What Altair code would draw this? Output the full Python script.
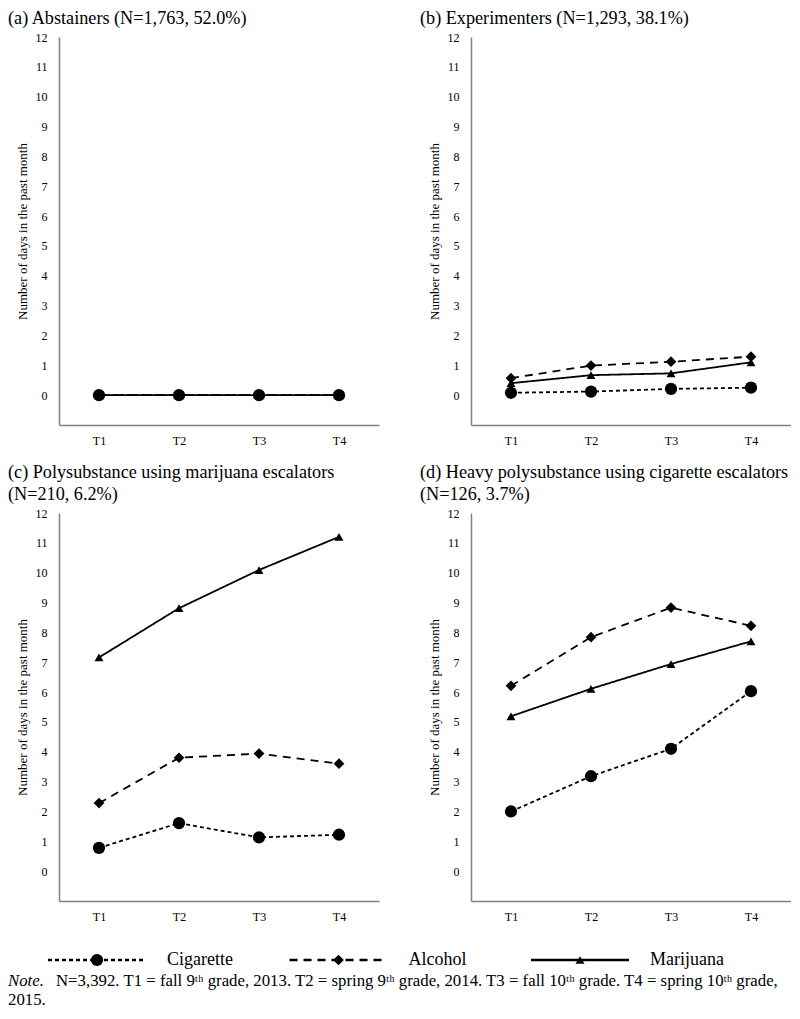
import altair as alt
import pandas as pd

FONT = "Liberation Serif"

times = ["T1", "T2", "T3", "T4"]
substances = ["Cigarette", "Alcohol", "Marijuana"]

panel_keys = ["a", "b", "c", "d"]
panel_titles = {
    "a": "(a) Abstainers (N=1,763, 52.0%)",
    "b": "(b) Experimenters (N=1,293, 38.1%)",
    "c": ["(c) Polysubstance using marijuana escalators", "(N=210, 6.2%)"],
    "d": ["(d) Heavy polysubstance using cigarette escalators", "(N=126, 3.7%)"],
}

# values per panel, T1..T4
a_cigarette = [0.0, 0.0, 0.0, 0.0]
a_alcohol = [0.0, 0.0, 0.0, 0.0]
a_marijuana = [0.0, 0.0, 0.0, 0.0]

b_cigarette = [0.08, 0.12, 0.21, 0.25]
b_alcohol = [0.57, 0.99, 1.12, 1.29]
b_marijuana = [0.40, 0.67, 0.73, 1.10]

c_cigarette = [0.78, 1.61, 1.13, 1.22]
c_alcohol = [2.28, 3.80, 3.94, 3.60]
c_marijuana = [7.16, 8.81, 10.09, 11.20]

d_cigarette = [2.00, 3.18, 4.10, 6.03]
d_alcohol = [6.21, 7.84, 8.83, 8.22]
d_marijuana = [5.19, 6.11, 6.94, 7.70]

y_ticks = list(range(0, 13))
y_title = "Number of days in the past month"

note_label = "Note."
note_line1 = ("N=3,392. T1 = fall 9\u1d57\u02b0 grade, 2013. T2 = spring 9\u1d57\u02b0 grade, 2014. "
              "T3 = fall 10\u1d57\u02b0 grade. T4 = spring 10\u1d57\u02b0 grade,")
note_line2 = "2015."

series = {
    "a": [a_cigarette, a_alcohol, a_marijuana],
    "b": [b_cigarette, b_alcohol, b_marijuana],
    "c": [c_cigarette, c_alcohol, c_marijuana],
    "d": [d_cigarette, d_alcohol, d_marijuana],
}

rows = []
for k in panel_keys:
    for s, vals in zip(substances, series[k]):
        for t, v in zip(times, vals):
            rows.append({"panel": k, "substance": s, "time": t, "value": v})
df = pd.DataFrame(rows)

dash_scale = alt.Scale(domain=substances, range=[[4, 3], [8, 6], [1, 0]])
shape_scale = alt.Scale(domain=substances, range=["circle", "diamond", "triangle-up"])
size_scale = alt.Scale(domain=substances, range=[150, 80, 150])

W, H = 320, 388


def panel(key):
    base = alt.Chart(df).transform_filter(alt.datum.panel == key)
    x = alt.X("time:N", scale=alt.Scale(type="point", domain=times, padding=0.5),
              axis=alt.Axis(title=None, labelAngle=0, ticks=False, labelPadding=10,
                            domainColor="#808080", domainWidth=1.5, grid=False))
    y = alt.Y("value:Q", scale=alt.Scale(domain=[-1, 12], nice=False, zero=False),
              axis=alt.Axis(values=y_ticks, title=y_title, ticks=False, labelPadding=12,
                            titlePadding=6, grid=False, domainColor="#808080", domainWidth=1.5))
    line = base.mark_line(color="black", strokeWidth=1.8).encode(
        x=x, y=y,
        strokeDash=alt.StrokeDash("substance:N", scale=dash_scale, legend=None),
        detail="substance:N",
    )
    pts = base.mark_point(filled=True, color="black", opacity=1).encode(
        x=x, y=y,
        shape=alt.Shape("substance:N", scale=shape_scale, legend=None),
        size=alt.Size("substance:O", scale=size_scale, legend=None),
    )
    return alt.layer(line, pts).properties(
        width=W, height=H,
        title=alt.TitleParams(panel_titles[key], anchor="start", frame="group", dx=-51,
                              fontSize=18.2, font=FONT, fontWeight="normal", offset=3,
                              lineHeight=22, color="black"),
    )


row1 = alt.hconcat(panel("a"), panel("b"), spacing=41)
row2 = alt.hconcat(panel("c"), panel("d"), spacing=41)

# legend + note (chart origin aligned with the left plot edge)
leg_df = pd.DataFrame({"substance": substances})
leg_x = alt.X("substance:N",
              scale=alt.Scale(type="point", domain=substances, range=[38, 521], padding=0),
              axis=None)
leg_dash = alt.Scale(domain=substances, range=[[6, 3], [9, 7], [1, 0]])
leg_base = alt.Chart(leg_df)
LEG_Y = 22
leg_rule = leg_base.mark_rule(color="black", strokeWidth=2.5, xOffset=-49, x2Offset=49).encode(
    x=leg_x, x2=alt.X2("substance:N"), y=alt.value(LEG_Y),
    strokeDash=alt.StrokeDash("substance:N", scale=leg_dash, legend=None),
)
leg_pts = leg_base.mark_point(filled=True, color="black", opacity=1).encode(
    x=leg_x, y=alt.value(LEG_Y),
    shape=alt.Shape("substance:N", scale=shape_scale, legend=None),
    size=alt.Size("substance:O", scale=size_scale, legend=None),
)
leg_text = leg_base.mark_text(align="left", baseline="middle", dx=70, fontSize=18, font=FONT,
                              color="black").encode(x=leg_x, y=alt.value(LEG_Y), text="substance:N")

one = pd.DataFrame({"a": [note_label], "b": [note_line1], "c": [note_line2]})
note_a = alt.Chart(one).mark_text(align="left", baseline="middle", fontSize=16.8, font=FONT,
                                  fontStyle="italic", color="black").encode(
    x=alt.value(-51), y=alt.value(43), text="a:N")
note_b = alt.Chart(one).mark_text(align="left", baseline="middle", fontSize=16.8, font=FONT,
                                  color="black").encode(
    x=alt.value(-3), y=alt.value(43), text="b:N")
note_c = alt.Chart(one).mark_text(align="left", baseline="middle", fontSize=16.8, font=FONT,
                                  color="black").encode(
    x=alt.value(-51), y=alt.value(62), text="c:N")

bottom = alt.layer(leg_rule, leg_pts, leg_text, note_a, note_b, note_c).properties(width=690, height=70)

chart = alt.vconcat(row1, row2, bottom, spacing=16).properties(
    padding=0
).configure_axis(
    labelFont=FONT, titleFont=FONT, labelFontSize=12, titleFontSize=13,
    titleFontWeight="normal", labelColor="black", titleColor="black",
).configure_view(strokeWidth=0)

chart.save("out.html", embed_options={"renderer": "svg", "actions": False})
